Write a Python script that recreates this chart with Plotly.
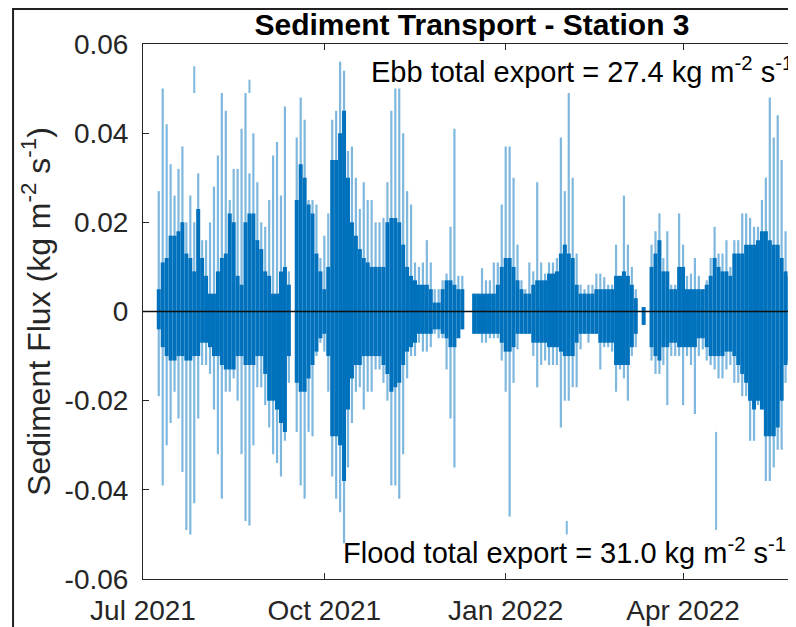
import pandas as pd
import plotly.graph_objects as go

# envelope of the tidal flux, read every 2 days from 2021-07-09 (None = gap in record)
start_date = "2021-07-09"

flux_hi = [
    0.027, 0.050, 0.042, 0.033, 0.026, 0.032, 0.037, 0.020, 0.026, 0.020,
    0.031, 0.016, 0.016, 0.020, 0.028, 0.035, 0.049, 0.045, 0.025, 0.032,
    0.032, 0.041, 0.049, 0.031, 0.040, 0.029, 0.020, 0.019, 0.025, 0.035,
    0.038, 0.026, 0.046, 0.009, None, 0.039, 0.048, 0.043, 0.025, 0.025,
    0.024, 0.012, 0.017, 0.022, 0.043, 0.045, 0.056, 0.054, 0.036, 0.037,
    0.030, 0.023, 0.029, 0.025, 0.025, 0.020, 0.020, 0.021, 0.029, 0.045,
    0.050, 0.050, 0.040, 0.027, 0.024, 0.011, 0.010, 0.011, 0.016, 0.011,
    0.005, 0.005, 0.007, 0.0085, 0.019, 0.041, 0.008, 0.008, None, None,
    0.004, 0.004, 0.0097, 0.007, 0.007, 0.011, 0.011, 0.024, 0.037, 0.037,
    0.030, 0.015, 0.007, 0.005, 0.011, 0.009, 0.029, 0.011, 0.0085, 0.011,
    0.011, 0.012, 0.039, 0.027, 0.049, 0.030, 0.013, 0.006, 0.005, 0.006,
    0.006, 0.0085, 0.0085, 0.0077, 0.006, 0.006, 0.015, 0.008, 0.026, 0.015,
    0.010, 0.005, None, 0.001, None, 0.015, 0.018, 0.022, 0.012, 0.018,
    0.006, 0.006, 0.022, 0.015, 0.008, 0.0085, 0.012, 0.008, 0.005, 0.007,
    0.012, 0.019, 0.013, 0.013, 0.016, 0.010, 0.016, 0.016, 0.022, 0.022,
    0.021, 0.019, 0.019, 0.025, 0.030, 0.048, 0.039, 0.044, 0.034, 0.018,
    0.017, 0.019,
]
flux_lo = [
    -0.019, -0.039, -0.030, -0.025, -0.018, -0.024, -0.036, -0.049, -0.050, -0.043,
    -0.024, -0.012, -0.012, -0.014, -0.022, -0.032, -0.042, -0.018, -0.018, -0.015,
    -0.020, -0.032, -0.047, -0.048, -0.030, -0.017, -0.017, -0.021, -0.026, -0.032,
    -0.034, -0.037, -0.029, -0.016, None, -0.027, -0.039, -0.042, -0.027, -0.028,
    -0.010, -0.007, -0.009, -0.018, -0.037, -0.042, -0.045, -0.052, -0.035, -0.025,
    -0.018, -0.017, -0.022, -0.018, -0.018, -0.013, -0.013, -0.016, -0.020, -0.039,
    -0.039, -0.042, -0.032, -0.015, -0.010, -0.010, -0.007, -0.009, -0.009, -0.008,
    -0.005, -0.006, -0.006, -0.013, -0.024, -0.035, -0.004, -0.004, None, None,
    -0.005, -0.005, -0.007, -0.007, -0.006, -0.006, -0.006, -0.011, -0.018, -0.046,
    -0.016, -0.0085, -0.005, -0.005, -0.005, -0.010, -0.017, -0.012, -0.011, -0.012,
    -0.012, -0.012, -0.026, -0.020, -0.020, -0.017, -0.017, -0.0085, -0.005, -0.007,
    -0.005, -0.005, -0.013, -0.008, -0.008, -0.009, -0.018, -0.013, -0.015, -0.020,
    -0.010, -0.008, None, -0.003, None, -0.011, -0.014, -0.014, -0.012, -0.021,
    -0.010, -0.010, -0.010, -0.021, -0.010, -0.012, -0.023, -0.010, -0.0085, -0.011,
    -0.012, -0.013, -0.015, -0.015, -0.013, -0.012, -0.016, -0.016, -0.019, -0.019,
    -0.029, -0.029, -0.021, -0.022, -0.038, -0.038, -0.035, -0.031, -0.031, -0.016,
    -0.013, -0.013,
]
# dense inner band where the record is almost solid
core_hi = [
    0.005, 0.011, 0.012, 0.017, 0.017, 0.018, 0.020, 0.013, 0.012, 0.009,
    0.023, 0.012, 0.008, 0.004, 0.004, 0.009, 0.012, 0.013, 0.022, 0.020,
    0.008, 0.006, 0.020, 0.022, 0.022, 0.016, 0.014, 0.009, 0.008, 0.004,
    0.004, 0.009, 0.010, 0.006, None, 0.025, 0.033, 0.030, 0.024, 0.022,
    0.013, 0.009, 0.005, 0.010, 0.034, 0.034, 0.040, 0.045, 0.030, 0.020,
    0.017, 0.014, 0.012, 0.011, 0.010, 0.010, 0.010, 0.010, 0.020, 0.021,
    0.021, 0.020, 0.015, 0.010, 0.008, 0.007, 0.006, 0.006, 0.006, 0.005,
    0.002, 0.002, 0.005, 0.007, 0.007, 0.006, 0.005, 0.005, None, None,
    0.004, 0.004, 0.004, 0.004, 0.004, 0.004, 0.006, 0.010, 0.012, 0.012,
    0.010, 0.007, 0.005, 0.004, 0.004, 0.006, 0.007, 0.007, 0.007, 0.0085,
    0.0085, 0.009, 0.013, 0.015, 0.013, 0.012, 0.006, 0.004, 0.004, 0.004,
    0.004, 0.005, 0.005, 0.005, 0.005, 0.005, 0.008, 0.008, 0.009, 0.008,
    0.006, 0.003, None, 0.001, None, 0.010, 0.013, 0.016, 0.009, 0.009,
    0.005, 0.005, 0.010, 0.010, 0.005, 0.005, 0.005, 0.005, 0.005, 0.006,
    0.008, 0.012, 0.010, 0.009, 0.009, 0.008, 0.013, 0.013, 0.013, 0.015,
    0.015, 0.015, 0.016, 0.018, 0.018, 0.016, 0.015, 0.015, 0.012, 0.009,
    0.008, 0.008,
]
core_lo = [
    -0.004, -0.008, -0.010, -0.011, -0.011, -0.010, -0.010, -0.011, -0.011, -0.010,
    -0.010, -0.007, -0.007, -0.008, -0.010, -0.010, -0.012, -0.013, -0.013, -0.013,
    -0.010, -0.010, -0.012, -0.012, -0.012, -0.010, -0.010, -0.014, -0.020, -0.020,
    -0.022, -0.025, -0.027, -0.010, None, -0.016, -0.018, -0.018, -0.015, -0.012,
    -0.009, -0.006, -0.005, -0.010, -0.028, -0.028, -0.030, -0.038, -0.022, -0.015,
    -0.012, -0.012, -0.010, -0.010, -0.010, -0.010, -0.010, -0.012, -0.014, -0.018,
    -0.017, -0.016, -0.012, -0.009, -0.008, -0.007, -0.005, -0.005, -0.005, -0.005,
    -0.004, -0.004, -0.005, -0.006, -0.008, -0.008, -0.006, -0.004, None, None,
    -0.005, -0.005, -0.005, -0.005, -0.005, -0.005, -0.005, -0.007, -0.009, -0.009,
    -0.008, -0.005, -0.005, -0.005, -0.005, -0.007, -0.007, -0.007, -0.007, -0.008,
    -0.008, -0.008, -0.009, -0.010, -0.010, -0.010, -0.007, -0.005, -0.005, -0.005,
    -0.005, -0.005, -0.007, -0.007, -0.007, -0.007, -0.012, -0.012, -0.012, -0.012,
    -0.008, -0.005, None, -0.003, None, -0.008, -0.010, -0.011, -0.008, -0.008,
    -0.007, -0.007, -0.008, -0.008, -0.008, -0.008, -0.008, -0.006, -0.006, -0.008,
    -0.010, -0.010, -0.010, -0.010, -0.009, -0.009, -0.010, -0.012, -0.014, -0.016,
    -0.020, -0.022, -0.020, -0.022, -0.028, -0.028, -0.028, -0.026, -0.020, -0.012,
    -0.011, -0.010,
]

# short detached strokes
stroke_dates = ["2021-07-27 00:00", "2021-08-24 00:00", "2022-02-01 00:00", "2022-04-17 18:00"]
stroke_from = [0.049, 0.049, -0.047, -0.027]
stroke_to = [0.055, 0.052, -0.050, -0.049]

x_tickvals = ["2021-07-01", "2021-10-01", "2022-01-01", "2022-04-01"]
x_ticktext = ["Jul 2021", "Oct 2021", "Jan 2022", "Apr 2022"]
y_tickvals = [-0.06, -0.04, -0.02, 0, 0.02, 0.04, 0.06]
y_ticktext = ["-0.06", "-0.04", "-0.02", "0", "0.02", "0.04", "0.06"]

dates = pd.date_range(start_date, periods=len(flux_hi), freq="2D")

def segments(ts, lo, hi):
    xs, ys = [], []
    for t, a, b in zip(ts, lo, hi):
        if a is None:
            continue
        xs += [t, t, None]
        ys += [a, b, None]
    return xs, ys

FONT = "Liberation Sans, Arial, Helvetica, sans-serif"
LIGHT = "rgba(0,114,189,0.5)"
DARK = "#0072BD"

fig = go.Figure()

x, y = segments(dates, flux_lo, flux_hi)
fig.add_trace(go.Scatter(x=x, y=y, mode="lines", line=dict(color=LIGHT, width=2.2),
                         hoverinfo="skip", showlegend=False))
x, y = segments(pd.to_datetime(stroke_dates), stroke_from, stroke_to)
fig.add_trace(go.Scatter(x=x, y=y, mode="lines", line=dict(color=LIGHT, width=2),
                         hoverinfo="skip", showlegend=False))
x, y = segments(dates, core_lo, core_hi)
fig.add_trace(go.Scatter(x=x, y=y, mode="lines", line=dict(color=DARK, width=4),
                         hoverinfo="skip", showlegend=False))

# zero line on top of the data
fig.add_shape(type="line", xref="paper", x0=0, x1=1, yref="y", y0=0, y1=0,
              line=dict(color="#111111", width=1.5), layer="above")
# outer frame of the figure window
fig.add_shape(type="rect", xref="paper", yref="paper",
              x0=-0.199, x1=1.2, y0=-0.3, y1=1.0654,
              line=dict(color="#222222", width=2))

fig.add_annotation(text="Ebb total export = 27.4 kg m<sup>-2</sup> s<sup>-1</sup>",
                   xref="paper", yref="paper", x=0.9985, y=0.952,
                   xanchor="right", yanchor="middle", showarrow=False,
                   font=dict(family=FONT, size=29, color="black"))
fig.add_annotation(text="Flood total export = 31.0 kg m<sup>-2</sup> s<sup>-1</sup>",
                   xref="paper", yref="paper", x=0.9885, y=0.0523,
                   xanchor="right", yanchor="middle", showarrow=False,
                   font=dict(family=FONT, size=29, color="black"))

fig.update_layout(
    width=788, height=619,
    margin=dict(l=135, r=0, t=36, b=48),
    paper_bgcolor="white", plot_bgcolor="white",
    font=dict(family=FONT, size=28, color="#262626"),
    title=dict(text="<b>Sediment Transport - Station 3</b>",
               x=464 / 788, xanchor="center", xref="container",
               y=1 - 16 / 619, yanchor="middle", yref="container",
               font=dict(family=FONT, size=30, color="black")),
)
fig.update_xaxes(
    type="date", range=["2021-07-01", "2022-05-28 07:00"],
    tickvals=x_tickvals, ticktext=x_ticktext,
    ticks="inside", ticklen=6, tickcolor="#262626", ticklabelstandoff=6,
    showline=True, linecolor="#262626", linewidth=1, mirror="ticks",
    showgrid=False, zeroline=False,
)
fig.update_yaxes(
    range=[-0.06, 0.06], tickvals=y_tickvals, ticktext=y_ticktext,
    ticks="inside", ticklen=6, tickcolor="#262626", ticklabelstandoff=8,
    showline=True, linecolor="#262626", linewidth=1,
    showgrid=False, zeroline=False,
    title=dict(text="Sediment Flux (kg m<sup>-2</sup> s<sup>-1</sup>)", standoff=4,
               font=dict(family=FONT, size=32, color="#262626")),
)

fig.write_html("out.html")
